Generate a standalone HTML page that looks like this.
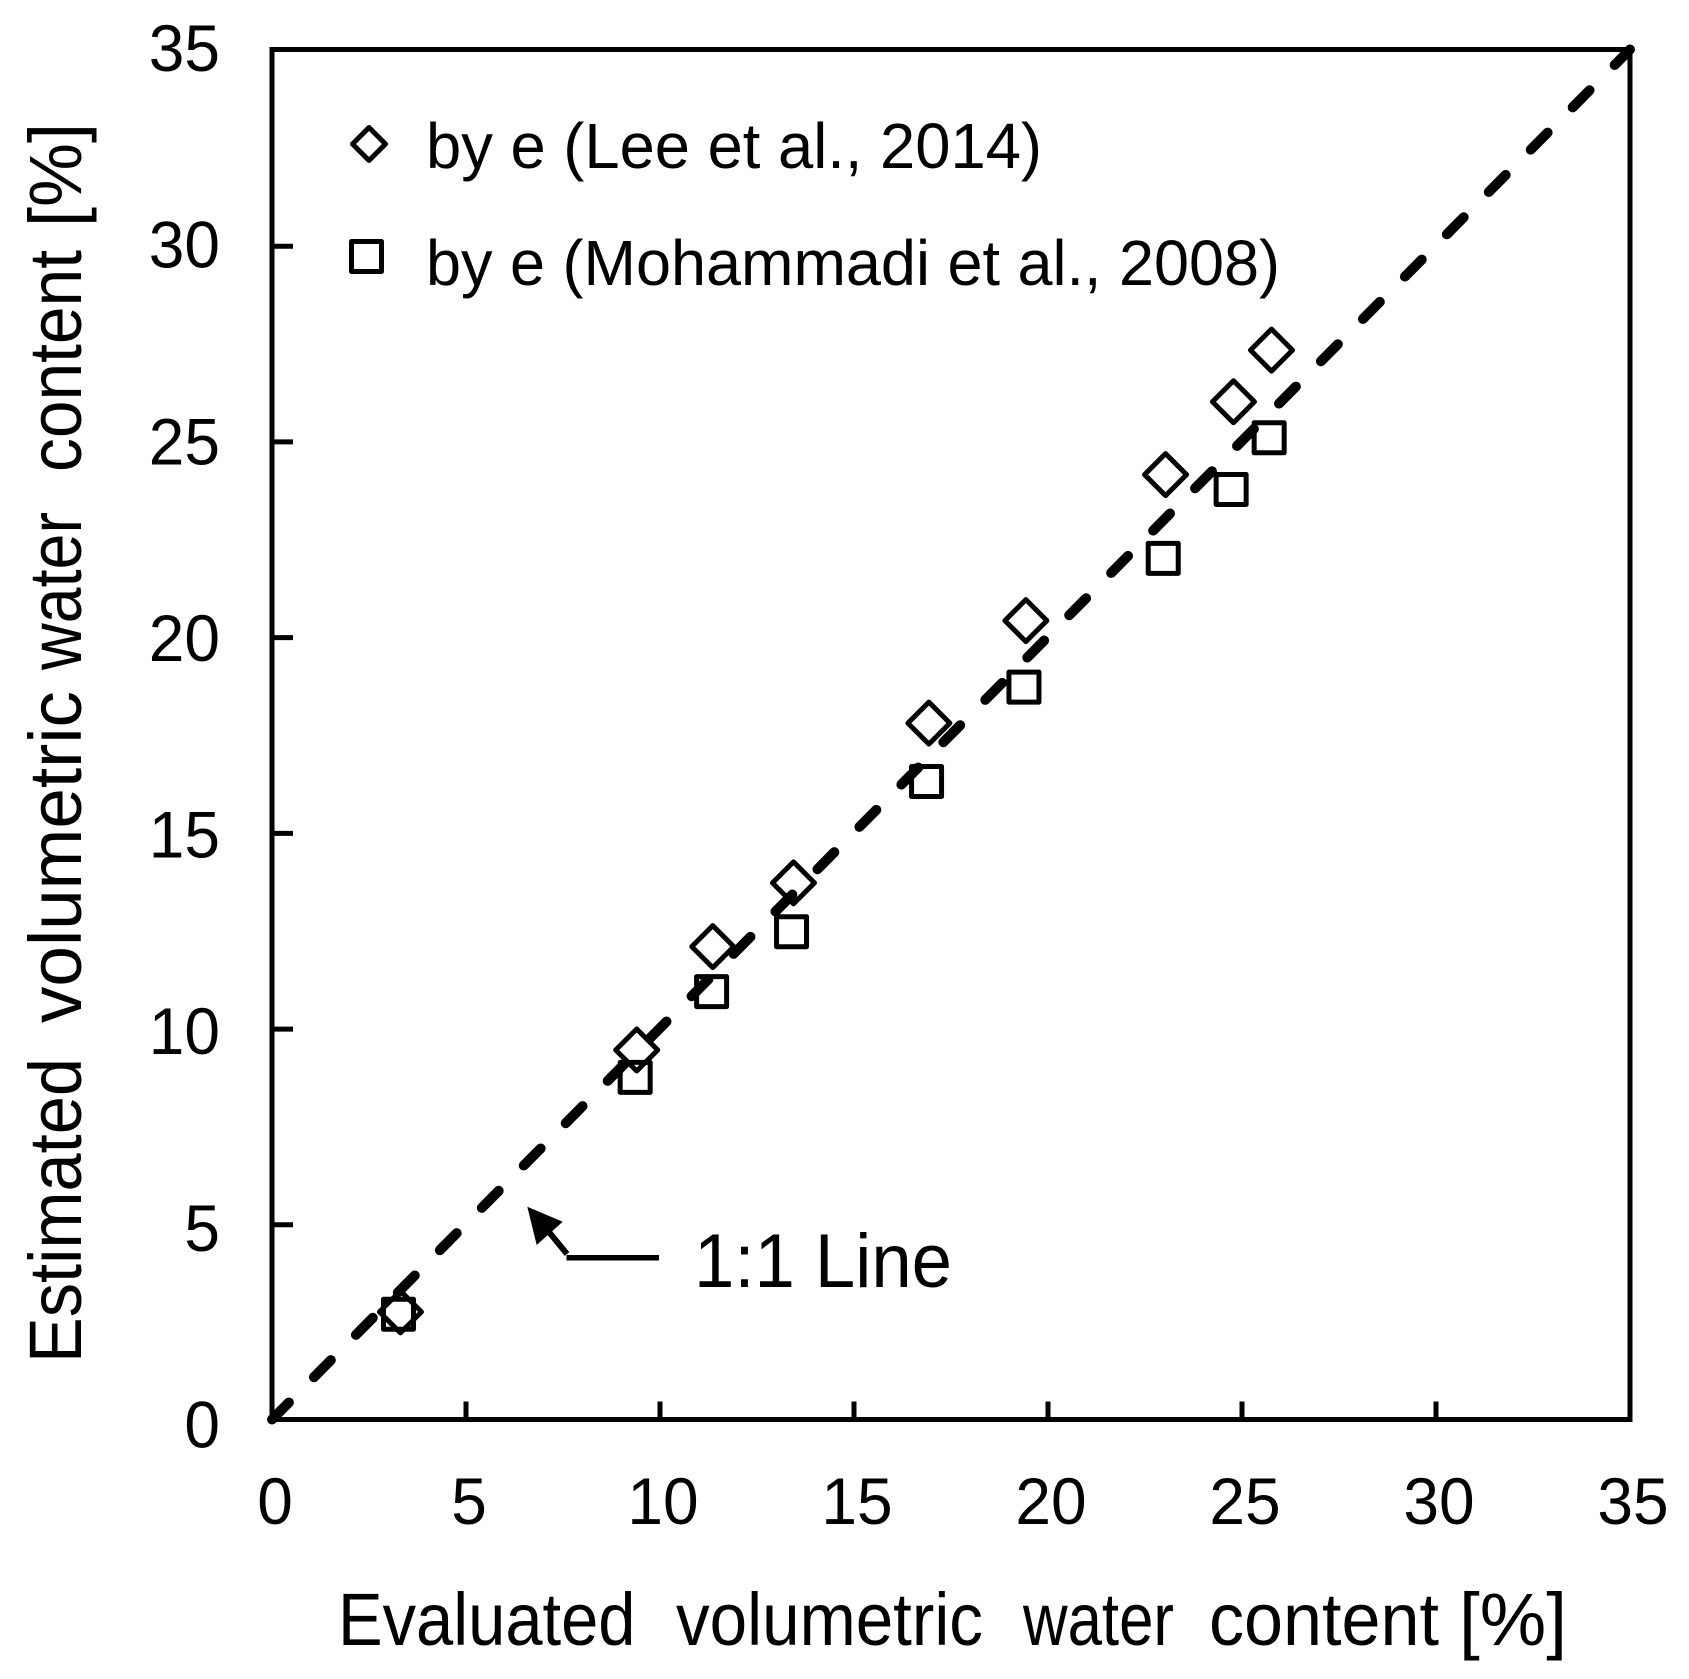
<!DOCTYPE html>
<html lang="en">
<head>
<meta charset="utf-8">
<title>Estimated vs evaluated volumetric water content</title>
<style>
html,body{margin:0;padding:0;background:#fff;width:1689px;height:1679px;overflow:hidden}
svg{display:block}
text{font-family:"Liberation Sans",Arial,sans-serif;fill:#000;white-space:pre}
</style>
</head>
<body>
<svg id="chart" xmlns="http://www.w3.org/2000/svg" width="1689" height="1679" viewBox="0 0 1689 1679">
  <rect x="0" y="0" width="1689" height="1679" fill="#fff"/>
  <g id="ticks"></g>
  <rect x="272" y="49.500" width="1358" height="1370" fill="none" stroke="#000" stroke-width="5"/>
  <g id="labels"></g>
  <g id="series"></g>

  <g font-size="74">
    <text x="338" y="1645" textLength="297.500" lengthAdjust="spacingAndGlyphs">Evaluated</text>
    <text x="676" y="1645" textLength="307" lengthAdjust="spacingAndGlyphs">volumetric</text>
    <text x="1023" y="1645" textLength="151" lengthAdjust="spacingAndGlyphs">water</text>
    <text x="1209" y="1645" textLength="230" lengthAdjust="spacingAndGlyphs">content</text>
    <text x="1459" y="1645" textLength="108" lengthAdjust="spacingAndGlyphs">[%]</text>
  </g>
  <g font-size="74">
    <text transform="translate(81,1363) rotate(-90)" textLength="305" lengthAdjust="spacingAndGlyphs">Estimated</text>
    <text transform="translate(81,1023) rotate(-90)" textLength="332" lengthAdjust="spacingAndGlyphs">volumetric</text>
    <text transform="translate(81,670) rotate(-90)" textLength="158" lengthAdjust="spacingAndGlyphs">water</text>
    <text transform="translate(81,472) rotate(-90)" textLength="222" lengthAdjust="spacingAndGlyphs">content</text>
    <text transform="translate(81,227) rotate(-90)" textLength="104" lengthAdjust="spacingAndGlyphs">[%]</text>
  </g>

  <g>
    <path d="M369 127.500L385.500 144L369 160.500L352.500 144Z" fill="none" stroke="#000" stroke-width="5" stroke-linejoin="round"/>
    <text x="426" y="168" font-size="64" textLength="616" lengthAdjust="spacingAndGlyphs">by e (Lee et al., 2014)</text>
    <rect x="351.500" y="241.500" width="30" height="30" fill="none" stroke="#000" stroke-width="5" stroke-linejoin="round"/>
    <text x="426" y="285" font-size="64" textLength="854" lengthAdjust="spacingAndGlyphs">by e (Mohammadi et al., 2008)</text>
  </g>

  <g>
    <polygon points="527.300,1206.700 562.700,1221.700 536.700,1245"/>
    <line x1="549" y1="1232" x2="567" y2="1254" stroke="#000" stroke-width="6"/>
    <line x1="566.500" y1="1257.700" x2="659" y2="1257.700" stroke="#000" stroke-width="5.500"/>
    <text x="694" y="1287" font-size="76" textLength="258" lengthAdjust="spacingAndGlyphs">1:1 Line</text>
  </g>
</svg>
<script>
var xTicks = [0, 5, 10, 15, 20, 25, 30, 35];
var yTicks = [0, 5, 10, 15, 20, 25, 30, 35];
var identityLine = [0, 35];
var leeEvaluated = [3.31, 9.40, 11.36, 13.44, 16.93, 19.43, 23.03, 24.78, 25.76];
var leeEstimated = [2.75, 9.44, 12.08, 13.71, 17.79, 20.41, 24.14, 26.00, 27.32];
var mohammadiEvaluated = [3.26, 9.36, 11.33, 13.39, 16.87, 19.38, 22.97, 24.72, 25.70];
var mohammadiEstimated = [2.69, 8.74, 10.93, 12.46, 16.30, 18.71, 22.00, 23.76, 25.08];

var NS = 'http://www.w3.org/2000/svg';
function xScale(v) { return 272 + v * (1358 / 35); }
function yScale(v) { return 1419.5 - v * (1370 / 35); }
function make(tag, attrs) {
  var el = document.createElementNS(NS, tag);
  for (var k in attrs) { el.setAttribute(k, attrs[k]); }
  return el;
}
function labelLength(v) { return String(v).length * 35.6; }
var tickGroup = document.getElementById('ticks');
var labelGroup = document.getElementById('labels');
var seriesGroup = document.getElementById('series');

xTicks.forEach(function (v) {
  if (v > 0 && v < 35) {
    var t = make('line', { x1: xScale(v), x2: xScale(v), y1: 1419.5, y2: 1401.5, stroke: '#000', 'stroke-width': 5 });
    
    
    tickGroup.appendChild(t);
  }
  var l = make('text', { x: xScale(v) + 3, y: 1524, 'font-size': 66, 'text-anchor': 'middle', textLength: labelLength(v), lengthAdjust: 'spacingAndGlyphs' });
  
  
  l.textContent = String(v);
  labelGroup.appendChild(l);
});

yTicks.forEach(function (v) {
  if (v > 0 && v < 35) {
    var t = make('line', { x1: 272, x2: 293, y1: yScale(v) + 1, y2: yScale(v) + 1, stroke: '#000', 'stroke-width': 5 });
    
    
    tickGroup.appendChild(t);
  }
  var l = make('text', { x: 220, y: yScale(v) + 28 - v * 0.186, 'font-size': 66, 'text-anchor': 'end', textLength: labelLength(v), lengthAdjust: 'spacingAndGlyphs' });
  
  
  l.textContent = String(v);
  labelGroup.appendChild(l);
});

var refLine = make('line', {
  x1: xScale(identityLine[0]), y1: yScale(identityLine[0]),
  x2: xScale(identityLine[1]), y2: yScale(identityLine[1]),
  stroke: '#000', 'stroke-width': 10, 'stroke-linecap': 'round', 'stroke-dasharray': '24 35.6'
});


seriesGroup.appendChild(refLine);

leeEvaluated.forEach(function (xv, i) {
  var cx = xScale(xv), cy = yScale(leeEstimated[i]), r = 21;
  var d = make('path', {
    d: 'M' + cx + ' ' + (cy - r) + 'L' + (cx + r) + ' ' + cy + 'L' + cx + ' ' + (cy + r) + 'L' + (cx - r) + ' ' + cy + 'Z',
    fill: 'none', stroke: '#000', 'stroke-width': 5, 'stroke-linejoin': 'round'
  });
  
  
  seriesGroup.appendChild(d);
});

mohammadiEvaluated.forEach(function (xv, i) {
  var cx = xScale(xv), cy = yScale(mohammadiEstimated[i]), s = 30;
  var r = make('rect', {
    x: cx - s / 2, y: cy - s / 2, width: s, height: s,
    fill: 'none', stroke: '#000', 'stroke-width': 5, 'stroke-linejoin': 'round'
  });
  
  
  seriesGroup.appendChild(r);
});
</script>
</body>
</html>
